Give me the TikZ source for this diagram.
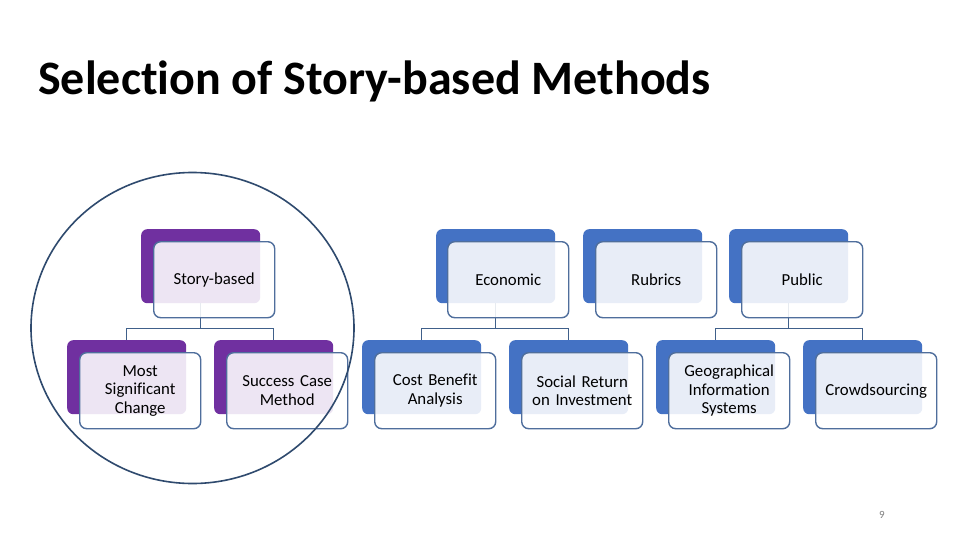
\documentclass[tikz,border=0pt]{standalone}
\usepackage{fontspec}
\setmainfont{Carlito}[Ligatures=NoCommon]
\usetikzlibrary{shapes.geometric}
\definecolor{purp}{HTML}{7030A0}
\definecolor{blu}{HTML}{4472C4}
\definecolor{frontline}{HTML}{4F6E9C}
\definecolor{connc}{HTML}{40608A}
\definecolor{circc}{HTML}{2F4A6E}
\tikzset{
  backbox/.style={rounded corners=6pt, minimum width=119pt, minimum height=74pt, anchor=north west, inner sep=0pt, draw=none},
  backP/.style={backbox, fill=purp},
  backB/.style={backbox, fill=blu},
  frontbox/.style={rounded corners=7pt, minimum width=121pt, minimum height=76pt, anchor=north west, inner sep=2pt,
     draw=frontline, line width=1.4pt, fill=white, fill opacity=0.88, text opacity=1, align=center,
     font=\fontsize{16.8}{18.5}\selectfont, text width=117pt},
  conn/.style={draw=connc, line width=1.4pt},
  ring/.style={draw=circc, line width=1.6pt},
}
\begin{document}
\begin{tikzpicture}[x=1pt,y=-1pt]
\useasboundingbox (0,0) rectangle (960,540);
\fill[white] (0,0) rectangle (960,540);
% title
\node[anchor=base west, inner sep=0pt, font=\fontsize{48}{54}\selectfont\bfseries] (title) at (38,95) {Selection of Story-based Methods};
% back boxes upper
\node[backP] (sbB) at (141,229) {};
\node[backB] (ecB) at (436,229) {};
\node[backB] (ruB) at (583,229) {};
\node[backB] (puB) at (729,229) {};
% back boxes lower
\node[backP] (mscB) at (67,340) {};
\node[backP] (scmB) at (214,340) {};
\node[backB] (cbaB) at (362,340) {};
\node[backB] (sriB) at (509,340) {};
\node[backB] (gisB) at (656,340) {};
\node[backB] (crB) at (803,340) {};
% connectors
\draw[conn] (sbB.south) -- ++(0,25) -| (mscB.north);
\draw[conn] (sbB.south) -- ++(0,25) -| (scmB.north);
\draw[conn] (ecB.south) -- ++(0,25) -| (cbaB.north);
\draw[conn] (ecB.south) -- ++(0,25) -| (sriB.north);
\draw[conn] (puB.south) -- ++(0,25) -| (gisB.north);
\draw[conn] (puB.south) -- ++(0,25) -| (crB.north);
% front boxes upper
\node[frontbox] (sb) at (153,241) {Story-based};
\node[frontbox] (ec) at (447,241) {Economic};
\node[frontbox] (ru) at (595,241) {Rubrics};
\node[frontbox] (pu) at (741,241) {Public};
% front boxes lower
\node[frontbox] (msc) at (79,352) {Most\\Significant\\Change};
\node[frontbox] (scm) at (226,352) {Success Case\\Method};
\node[frontbox] (cba) at (374,352) {Cost Benefit\\Analysis};
\node[frontbox] (sri) at (521,352) {Social Return\\on Investment};
\node[frontbox] (gis) at (668,352) {Geographical\\Information\\Systems};
\node[frontbox] (cr) at (815,352) {Crowdsourcing};
% highlight ring
\node[ring, ellipse, minimum width=323pt, minimum height=311pt, inner sep=0pt] (hl) at (192.5,328) {};
% page number
\node[font=\fontsize{11}{13}\selectfont, text=gray, inner sep=0pt] (pg) at (882,515) {9};
\end{tikzpicture}
\end{document}
